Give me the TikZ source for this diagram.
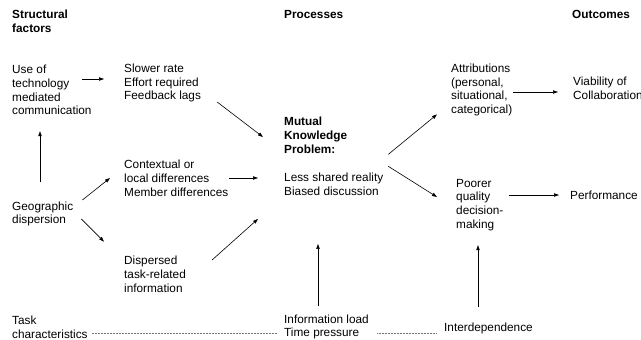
\documentclass[tikz,border=0pt]{standalone}
\usepackage{fontspec}
\setmainfont{Liberation Sans}
\usetikzlibrary{arrows.meta,calc}
\tikzset{
  mkp/text/.style={
    anchor=west,
    align=left,
    inner sep=0pt,
    font=\fontsize{11.8}{13.8}\selectfont
  },
  mkp/head/.style={
    mkp/text,
    font=\fontsize{11.8}{13.8}\selectfont\bfseries
  },
  mkp/arrow/.style={-{Triangle[length=5pt,width=3.4pt]}, line width=0.6pt},
  mkp/dotline/.style={densely dotted, line width=0.5pt, draw=black!55}
}

\begin{document}
\begin{tikzpicture}[x=1pt,y=-1pt]
  \useasboundingbox (0,0) rectangle (641,340);
  \node[mkp/head] (struct) at (12,21) {Structural\\factors};
  \node[mkp/head] (proc) at (284,14) {Processes};
  \node[mkp/head] (outc) at (572,14) {Outcomes};
  \node[mkp/text] (usetech) at (12,90) {Use of\\technology\\mediated\\communication};
  \node[mkp/text] (slower) at (124,83) {Slower rate\\Effort required\\Feedback lags};
  \node[mkp/text] (context) at (124,178) {Contextual or\\local differences\\Member differences};
  \node[mkp/text] (geo) at (12,214) {Geographic\\dispersion};
  \node[mkp/text] (dispersed) at (124,274) {Dispersed\\task-related\\information};
  \node[mkp/text] (task) at (12,327) {Task\\characteristics};
  \node[mkp/head] (mutual) at (284,135) {Mutual\\Knowledge\\Problem:};
  \node[mkp/text] (shared) at (284,184.5) {Less shared reality\\Biased discussion};
  \node[mkp/text] (infoload) at (284,327) {Information load\\Time pressure};
  \node[mkp/text] (attrib) at (451,90) {Attributions\\(personal,\\situational,\\categorical)};
  \node[mkp/text] (poorer) at (456,205) {Poorer\\quality\\decision-\\making};
  \node[mkp/text] (interdep) at (444,328) {Interdependence};
  \node[mkp/text] (viab) at (573,88) {Viability of\\Collaboration};
  \node[mkp/text] (perf) at (570,195) {Performance};
  \draw[mkp/arrow] ($(usetech.east)+(-10,-11)$) -- ($(slower.west)+(-20,-4)$);
  \draw[mkp/arrow] ($(slower.east)+(16,19)$) -- ($(mutual.west)+(-21,2)$);
  \draw[mkp/arrow] ($(geo.north west)+(28,-19)$) -- ($(usetech.south west)+(28,16)$);
  \draw[mkp/arrow] ($(geo.east)+(9,-14)$) -- ($(context.west)+(-14,0)$);
  \draw[mkp/arrow] ($(geo.east)+(8,5)$) -- ($(dispersed.north west)+(-20,-14)$);
  \draw[mkp/arrow] ($(context.east)+(1,0)$) -- ($(shared.west)+(-26,-6.5)$);
  \draw[mkp/arrow] ($(dispersed.east)+(26,-14)$) -- ($(shared.south west)+(-26,23)$);
  \draw[mkp/arrow] ($(infoload.north west)+(34,-8)$) -- ($(shared.south west)+(34,48)$);
  \draw[mkp/arrow] ($(mutual.south east)+(41,1)$) -- ($(attrib.south west)+(-14,-2)$);
  \draw[mkp/arrow] ($(mutual.south east)+(41,13)$) -- ($(poorer.west)+(-19,-8)$);
  \draw[mkp/arrow] ($(attrib.east)+(1,2)$) -- ($(viab.west)+(-15,4)$);
  \draw[mkp/arrow] ($(poorer.east)+(5,-10)$) -- ($(perf.west)+(-11,0)$);
  \draw[mkp/arrow] ($(interdep.north west)+(34,-15.5)$) -- ($(poorer.south west)+(22,14)$);
  \draw[mkp/dotline] ($(task.east)+(4,6)$) -- ($(infoload.west)+(-7,6)$);
  \draw[mkp/dotline] ($(infoload.east)+(8,6)$) -- ($(interdep.west)+(-7,5)$);
\end{tikzpicture}
\end{document}
